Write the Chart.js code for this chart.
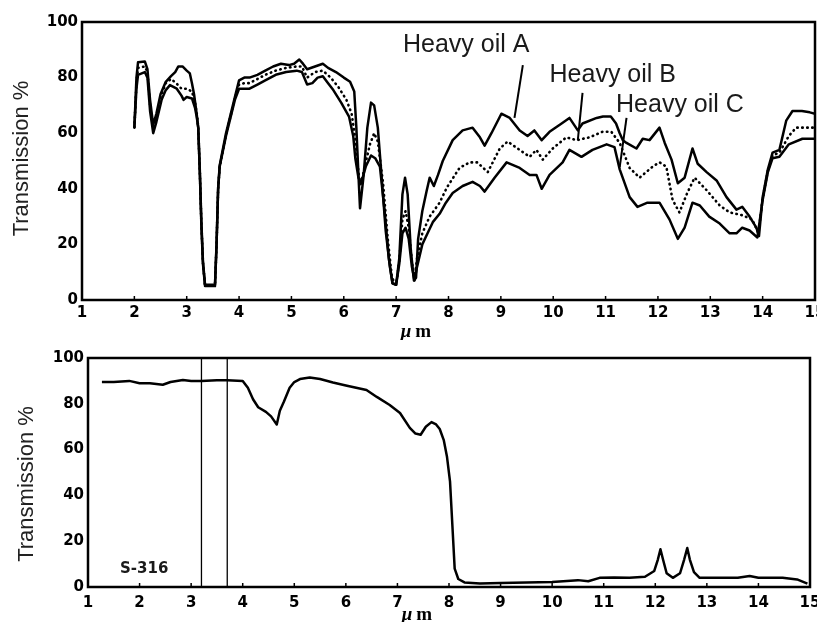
<!DOCTYPE html>
<html lang="en">
<head>
<meta charset="utf-8">
<title>IR transmission spectra</title>
<script src="https://cdn.jsdelivr.net/npm/chart.js@4.4.1/dist/chart.umd.min.js"></script>
<style>
    body { margin: 0; background: #fff; width: 817px; height: 622px; position: relative; overflow: hidden; }
    canvas { position: absolute; left: 0; }
</style>
</head>
<body>

<canvas id="topChart" width="817" height="340" style="top:0"></canvas>
<canvas id="bottomChart" width="817" height="292" style="top:330px"></canvas>

<script>
    // wavelength in µm, transmission in %
    const oilA = [[2.0,62],[2.04,80],[2.07,85.5],[2.2,85.8],[2.25,83],[2.3,72],[2.36,63],[2.42,67],[2.5,74],[2.6,78.5],
        [2.7,80.5],[2.78,82],[2.84,84],[2.92,84],[3.0,82.5],[3.06,81.5],[3.1,78],[3.14,74],[3.19,67],[3.22,62],
        [3.25,47],[3.28,28],[3.31,14],[3.35,5.5],[3.54,5.5],[3.57,20],[3.6,40],[3.63,48.5],[3.75,60],[3.92,73],
        [4.0,79],[4.1,80],[4.2,80],[4.35,81],[4.5,82.5],[4.65,84],[4.8,85],[4.95,84.5],[5.05,85],[5.15,86.5],
        [5.22,85],[5.3,83],[5.45,84],[5.6,85],[5.7,83.5],[5.85,82],[6.0,80],[6.12,78.5],[6.2,75],[6.24,62],
        [6.28,45],[6.31,33],[6.38,45],[6.45,62],[6.52,71],[6.58,70],[6.65,62],[6.72,45],[6.8,25],[6.88,12],
        [6.93,6],[7.0,5.5],[7.06,15],[7.12,38],[7.17,44],[7.22,38],[7.28,18],[7.34,7],[7.38,8],[7.42,22],
        [7.5,32],[7.58,39],[7.64,44],[7.72,41],[7.8,45],[7.89,50],[8.08,57.5],[8.27,61],[8.46,62],[8.6,58.5],
        [8.69,55.5],[8.82,60],[9.01,67],[9.17,65.5],[9.36,61],[9.51,59],[9.64,61],[9.78,57.5],[9.93,60.5],[10.16,63.5],
        [10.31,65.5],[10.47,61],[10.56,63.5],[10.83,65.5],[10.95,66],[11.1,66],[11.2,63.5],[11.27,60],[11.33,57.5],[11.4,56.5],
        [11.59,54.5],[11.71,58],[11.84,57.5],[12.03,62],[12.13,56.5],[12.26,50.5],[12.38,42],[12.51,44],[12.66,54.5],[12.76,49],
        [12.93,46],[13.12,43],[13.31,37],[13.5,32.5],[13.61,33.5],[13.75,30],[13.88,26],[13.93,23],[14.0,37],[14.1,47],
        [14.19,53],[14.32,54],[14.45,64.5],[14.57,68],[14.75,68],[14.9,67.5],[15.0,67]];

    const oilB = [[2.0,62],[2.04,78],[2.07,83.5],[2.2,84],[2.25,82],[2.3,70],[2.36,62],[2.42,66],[2.5,73],[2.6,78],
        [2.7,79.5],[2.8,78],[2.9,76],[3.0,76],[3.1,75],[3.16,71],[3.2,66],[3.22,62],[3.25,46.5],[3.28,27.5],
        [3.31,13.5],[3.35,5.2],[3.54,5.2],[3.57,20],[3.6,40],[3.63,48],[3.75,59.5],[3.92,72.5],[4.0,77.5],[4.1,78],
        [4.2,78],[4.35,79.5],[4.5,81],[4.7,82.5],[4.9,83.5],[5.1,84],[5.2,84],[5.3,80],[5.45,82],[5.6,82.5],
        [5.75,80],[5.9,76.5],[6.05,72],[6.15,67],[6.22,58],[6.28,46],[6.32,41],[6.4,48],[6.5,56],[6.58,60],
        [6.65,57],[6.75,42],[6.84,22],[6.92,8],[7.0,5.5],[7.06,14],[7.12,29],[7.18,32],[7.24,26],[7.3,14],
        [7.35,7.5],[7.4,15],[7.5,24],[7.64,30],[7.83,35],[7.97,40.5],[8.21,47.5],[8.4,49.5],[8.55,49.5],[8.75,46],
        [8.98,54.5],[9.13,57],[9.32,54.5],[9.55,51.5],[9.68,54],[9.8,50.5],[9.99,54.5],[10.25,58.5],[10.45,57.5],[10.69,58.5],
        [10.94,60.5],[11.11,60.5],[11.27,56.5],[11.46,47.5],[11.65,44],[11.9,48],[12.03,49.5],[12.16,48],[12.28,36],[12.41,31.5],
        [12.56,38.5],[12.7,44],[12.93,39.5],[13.18,34],[13.37,31.5],[13.61,30.5],[13.8,29],[13.92,24],[14.0,36.5],[14.1,46.5],
        [14.19,52],[14.32,53],[14.5,59],[14.64,62],[14.8,62],[15.0,62]];

    const oilC = [[2.0,62],[2.04,76],[2.07,81],[2.2,82],[2.25,80],[2.3,68],[2.36,60],[2.42,64],[2.52,72],[2.6,75.5],
        [2.68,77.3],[2.81,76],[2.9,73.5],[2.94,72],[3.0,73],[3.1,72.5],[3.16,69],[3.19,66],[3.22,62],[3.25,46],
        [3.28,27],[3.31,13],[3.35,5],[3.54,5],[3.57,20],[3.6,40],[3.63,48],[3.75,59],[3.92,72],[4.0,76],
        [4.2,76],[4.35,77.5],[4.5,79],[4.7,81],[4.9,82],[5.1,82.5],[5.2,82],[5.3,77.5],[5.4,78],[5.5,80],
        [5.6,80.5],[5.7,78],[5.8,75.5],[5.95,71],[6.1,66],[6.18,59],[6.22,51],[6.28,44],[6.33,42],[6.42,48],
        [6.52,52],[6.6,51],[6.69,48],[6.78,32],[6.86,15],[6.93,6],[7.0,5.5],[7.06,13],[7.12,24],[7.18,26],
        [7.24,22],[7.3,12],[7.35,7],[7.4,12],[7.5,20],[7.6,24],[7.7,28],[7.83,31],[7.95,35],[8.08,38.5],
        [8.27,41],[8.46,42.5],[8.6,41],[8.69,39],[8.88,44],[9.11,49.5],[9.36,47.5],[9.55,45],[9.68,45],[9.78,40],
        [9.93,45],[10.18,49.5],[10.31,54],[10.54,51.5],[10.75,54],[11.02,56],[11.17,55],[11.27,47],[11.46,37],[11.61,33.5],
        [11.8,35],[12.03,35],[12.22,29],[12.38,22],[12.51,26],[12.66,35],[12.8,34],[12.98,30],[13.18,27.5],[13.37,24],
        [13.5,24],[13.61,26],[13.75,25],[13.9,22.5],[14.0,36],[14.1,46],[14.19,51],[14.32,51.5],[14.5,56],[14.76,58],
        [15.0,58]];

    const s316 = [[1.27,89.5],[1.5,89.5],[1.8,90],[2.0,89],[2.2,89],[2.45,88.3],[2.6,89.5],[2.84,90.4],[3.0,90],[3.2,90],
        [3.5,90.3],[3.7,90.3],[4.0,90],[4.1,87],[4.2,82],[4.3,78.5],[4.45,76.5],[4.55,74.5],[4.66,71],[4.72,77],
        [4.8,81],[4.91,87],[5.0,89.5],[5.11,90.8],[5.3,91.5],[5.5,90.8],[5.75,89.3],[6.0,88],[6.2,87],[6.4,86],
        [6.6,83],[6.85,79.5],[7.05,76],[7.24,69.5],[7.35,67],[7.45,66.5],[7.55,70],[7.66,72],[7.75,71],[7.82,69],
        [7.9,64],[7.96,57],[8.02,46],[8.07,25],[8.11,8],[8.18,3.5],[8.3,2],[8.6,1.5],[9.0,1.8],[9.5,2],
        [10.0,2.2],[10.5,3],[10.7,2.5],[10.92,4],[11.2,4.2],[11.5,4],[11.8,4.5],[11.98,7],[12.05,12],[12.1,16.5],
        [12.15,12],[12.22,6],[12.34,4],[12.48,6],[12.56,12],[12.62,17],[12.67,12],[12.75,6.5],[12.86,4],[13.2,4],
        [13.6,4],[13.83,4.8],[14.0,4],[14.47,4],[14.75,3.3],[14.95,1.5]];

    const markerLines = [3.2, 3.7];
    const xTicks = { min: 1, max: 15, step: 1 };
    const yTicks = { min: 0, max: 100, step: 20 };

    // labels are placed in data units (µm, %)
    const topNotes = [
        { text: 'Heavy oil A', at: [7.13, 89.3], leader: [[9.42, 84.5], [9.26, 65.5]] },
        { text: 'Heavy oil B', at: [9.93, 78.5], leader: [[10.56, 74.5], [10.47, 57.5]] },
        { text: 'Heavy oil C', at: [11.2, 67.7], leader: [[11.4, 65.5], [11.27, 47.8]] }
    ];
    const bottomNotes = [
        { text: 'S-316', at: [1.62, 6.3], font: 'bold 15px "DejaVu Sans"' }
    ];

    const toXY = pts => pts.map(p => ({ x: p[0], y: p[1] }));
    const tickFont = { family: 'DejaVu Sans', weight: 'bold', size: 15 };

    const framePlugin = {
        id: 'frame',
        afterDraw(chart, args, opts) {
            const { ctx, chartArea: a, scales: { x, y } } = chart;
            ctx.save();
            ctx.strokeStyle = '#000';
            ctx.lineWidth = 2.5;
            ctx.strokeRect(a.left, a.top, a.right - a.left, a.bottom - a.top);

            // short inward tick marks on the wavelength axis
            ctx.lineWidth = 1.5;
            x.ticks.forEach(t => {
                const px = x.getPixelForValue(t.value);
                ctx.beginPath();
                ctx.moveTo(px, a.bottom);
                ctx.lineTo(px, a.bottom - 4);
                ctx.stroke();
            });

            // notes
            opts.notes.forEach(n => {
                ctx.fillStyle = '#1a1a1a';
                ctx.font = n.font || '25px "Liberation Sans", Arial, sans-serif';
                ctx.textAlign = 'left';
                ctx.textBaseline = 'alphabetic';
                ctx.fillText(n.text, x.getPixelForValue(n.at[0]), y.getPixelForValue(n.at[1]));
                if (n.leader) {
                    ctx.strokeStyle = '#000';
                    ctx.lineWidth = 2;
                    ctx.beginPath();
                    ctx.moveTo(x.getPixelForValue(n.leader[0][0]), y.getPixelForValue(n.leader[0][1]));
                    ctx.lineTo(x.getPixelForValue(n.leader[1][0]), y.getPixelForValue(n.leader[1][1]));
                    ctx.stroke();
                }
            });

            // x title: µ m
            ctx.fillStyle = '#000';
            ctx.textBaseline = 'middle';
            ctx.textAlign = 'left';
            ctx.font = 'italic bold 19px "Liberation Serif", serif';
            const mu = ctx.measureText('μ').width;
            ctx.font = 'bold 19px "Liberation Serif", serif';
            const m = ctx.measureText('m').width;
            const x0 = opts.xTitle[0] - (mu + 4 + m) / 2;
            ctx.font = 'italic bold 19px "Liberation Serif", serif';
            ctx.fillText('μ', x0, opts.xTitle[1]);
            ctx.font = 'bold 19px "Liberation Serif", serif';
            ctx.fillText('m', x0 + mu + 4, opts.xTitle[1]);

            // y title
            ctx.fillStyle = '#222';
            ctx.font = '22px "Liberation Sans", Arial, sans-serif';
            ctx.textAlign = 'center';
            ctx.textBaseline = 'alphabetic';
            ctx.translate(opts.yTitle[0], opts.yTitle[1]);
            ctx.rotate(-Math.PI / 2);
            ctx.fillText('Transmission %', 0, 0);
            ctx.restore();
        }
    };

    function makeChart(id, datasets, pad, yWidth, xHeight, xPad, frame) {
        return new Chart(id, {
            type: 'line',
            data: { datasets: datasets },
            options: {
                responsive: false,
                animation: false,
                layout: { padding: pad },
                elements: {
                    point: { radius: 0 },
                    line: { tension: 0, borderColor: '#000', borderWidth: 2.5, borderJoinStyle: 'round' }
                },
                plugins: { legend: { display: false }, tooltip: { enabled: false }, frame: frame },
                scales: {
                    x: {
                        type: 'linear', min: xTicks.min, max: xTicks.max,
                        grid: { display: false, drawTicks: false }, border: { display: false },
                        ticks: { stepSize: xTicks.step, color: '#000', font: tickFont, padding: xPad, maxRotation: 0, autoSkip: false },
                        afterFit: s => { s.height = xHeight; s.paddingLeft = 0; s.paddingRight = 0; }
                    },
                    y: {
                        min: yTicks.min, max: yTicks.max,
                        grid: { display: false, drawTicks: false }, border: { display: false },
                        ticks: { stepSize: yTicks.step, color: '#000', font: tickFont, padding: 4 },
                        afterFit: s => { s.width = yWidth; s.paddingTop = 0; s.paddingBottom = 0; }
                    }
                }
            },
            plugins: [framePlugin]
        });
    }

    makeChart('topChart', [
        { label: 'Heavy oil A', data: toXY(oilA) },
        { label: 'Heavy oil B', data: toXY(oilB), borderWidth: 2.6, borderDash: [0.5, 4.5], borderCapStyle: 'round' },
        { label: 'Heavy oil C', data: toXY(oilC) }
    ], { top: 22, right: 2, left: 0, bottom: 0 }, 82, 40, 4,
       { notes: topNotes, xTitle: [416, 332], yTitle: [28, 158.5] });

    makeChart('bottomChart', [
        { label: 'S-316', data: toXY(s316) },
        ...markerLines.map(v => ({ label: 'marker', data: [{ x: v, y: 0 }, { x: v, y: 100 }], borderWidth: 1.3 }))
    ], { top: 28, right: 7, left: 0, bottom: 0 }, 88, 35, 7,
       { notes: bottomNotes, xTitle: [417, 285], yTitle: [33, 154] });
</script>
</body>
</html>
